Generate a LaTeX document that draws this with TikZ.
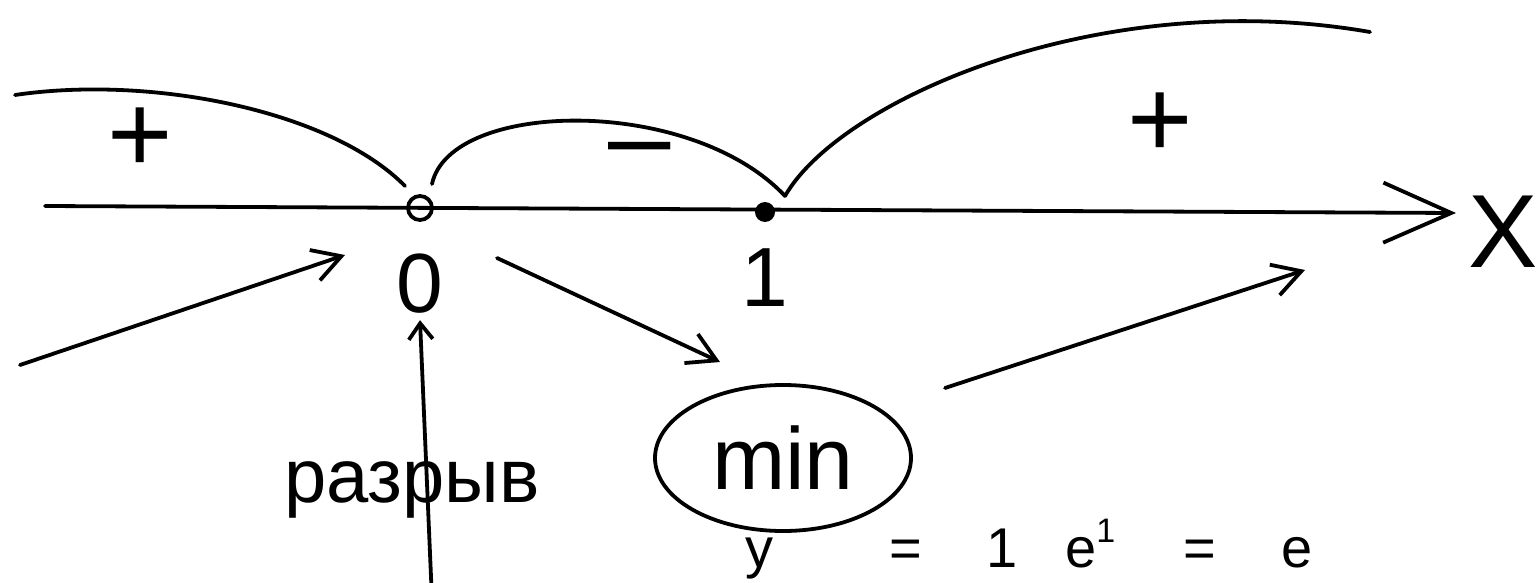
\documentclass[tikz,border=0pt]{standalone}
\usepackage{fontspec}
\setmainfont{Liberation Sans}
\usetikzlibrary{arrows.meta,positioning,shapes.geometric}

\begin{document}
\begin{tikzpicture}[
  x=0.5pt, y=-0.5pt,
  stroke/.style={line width=1.9pt, line cap=round},
  barb/.style={stroke, -{Straight Barb[length=14pt, width=16pt]}},
  sign/.style={font=\fontsize{56}{60}\selectfont, inner sep=0pt},
  lbl/.style={font=\fontsize{42}{46}\selectfont, inner sep=0pt},
  hole/.style={circle, draw, line width=1.9pt, minimum size=12pt, inner sep=0pt},
  dot/.style={circle, fill, minimum size=10pt, inner sep=0pt}
]
\useasboundingbox (0,0) rectangle (1537,583);
\clip (0,0) rectangle (1537,583);

\coordinate (start) at (45,206);
\coordinate (tip) at (1456,213);
\draw[stroke, -{Straight Barb[length=34pt, width=30pt]}] (start) -- (tip);

\node[hole] (zero) at (420,208) {};
\node[dot] (one) at (765,212) {};
\node[lbl, below=16pt of zero] (lblzero) {0};
\node[lbl, below=13pt of one] (lblone) {1};
\node[lbl, font=\fontsize{52}{56}\selectfont] (lblx) at (1503,232) {X};

\coordinate (farleft) at (15,95);
\coordinate (cuspl) at (405,186);
\coordinate (cuspm) at (432,184);
\coordinate (cuspr) at (785,196);
\coordinate (farright) at (1370,32);
\draw[stroke] (farleft) .. controls (150,75) and (330,110) .. (cuspl);
\draw[stroke] (cuspm) .. controls (450,100) and (690,95) .. (cuspr);
\draw[stroke] (cuspr) .. controls (840,100) and (1100,-15) .. (farright);

\node[sign] (plusl) at (140,140) {+};
\node[sign] (minus) at (640,158) {–};
\node[sign] (plusr) at (1160,125) {+};

\node[ellipse, draw, stroke, minimum width=128pt, minimum height=73pt,
      font=\fontsize{44}{48}\selectfont] (minnode) at (783,458) {min};
\node[font=\fontsize{38}{42}\selectfont, inner sep=0pt] (gap) at (412,490) {разрыв};

\coordinate (in1) at (20,365);
\coordinate (out1) at (345,255);
\coordinate (in2) at (497,258);
\coordinate (out2) at (720,362);
\coordinate (in3) at (945,388);
\coordinate (out3) at (1305,270);
\coordinate (gapfoot) at (432,600);
\draw[barb] (in1) -- (out1);
\draw[barb] (in2) -- (out2);
\draw[barb] (in3) -- (out3);
\draw[stroke, -{Straight Barb[length=8pt, width=12pt]}] (gapfoot) -- ([yshift=-3pt]lblzero.south);

\node[anchor=base west, inner sep=0pt, font=\fontsize{28}{32}\selectfont] (yval) at (745,567)
  {y\hspace{58pt}=\hspace{32pt}1\hspace{24pt}e\raisebox{12.5pt}{\fontsize{17}{19}\selectfont 1}\hspace{34pt}=\hspace{33pt}e};
\end{tikzpicture}
\end{document}
